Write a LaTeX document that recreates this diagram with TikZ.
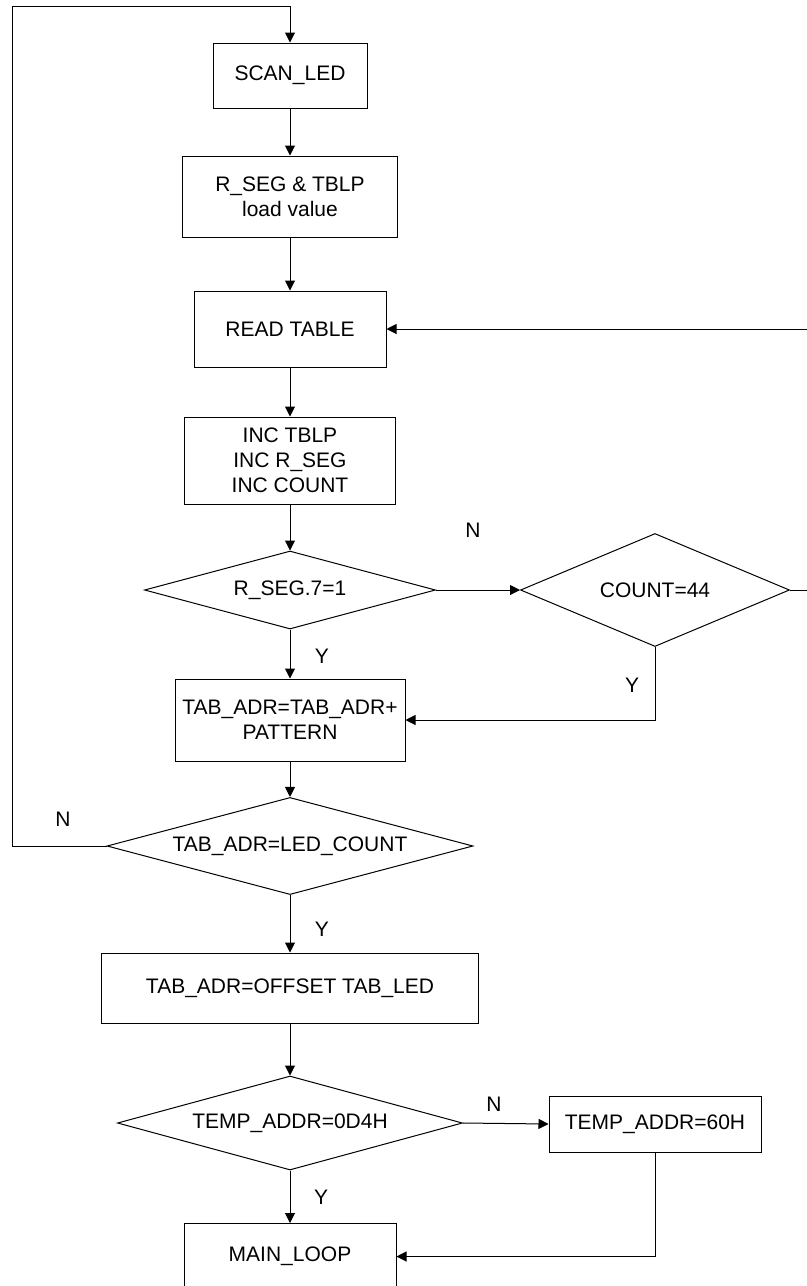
\documentclass[tikz,border=0pt]{standalone}
\usepackage{fontspec}
\setmainfont{Liberation Sans}
\usepackage{tikz}
\usetikzlibrary{shapes.geometric}
\usetikzlibrary{arrows.meta}

\begin{document}
\begin{tikzpicture}[x=0.5pt,y=-0.5pt,
    font=\fontsize{10.5}{12.5}\selectfont,
    line width=0.5pt,
    box/.style={draw,rectangle,align=center,inner sep=0pt},
    test/.style={draw,diamond,inner sep=0pt,aspect=3},
    flow/.style={-{Triangle[length=5pt,width=5pt]}}]
    \useasboundingbox (0,0) rectangle (807,1286);
    \clip (0,0) rectangle (807,1286);

    \node[box,minimum width=77pt,minimum height=32.5pt] (scan) at (290,75.5) {SCAN\_LED};
    \node[box,minimum width=107.5pt,minimum height=40.5pt] (load) at (290,196.5) {R\_SEG \& TBLP\\load value};
    \node[box,minimum width=96pt,minimum height=38pt] (read) at (290,329) {READ TABLE};
    \node[box,minimum width=105.5pt,minimum height=43.5pt] (inc) at (290,460.5) {INC TBLP\\INC R\_SEG\\INC COUNT};
    \node[test,minimum width=145.5pt,minimum height=39pt] (seg) at (290,590) {R\_SEG.7=1};
    \node[test,minimum width=134.5pt,minimum height=56.5pt] (count) at (655,590) {COUNT=44};
    \node[box,minimum width=115pt,minimum height=41pt] (add) at (290,720) {TAB\_ADR=TAB\_ADR+\\PATTERN};
    \node[test,minimum width=183pt,minimum height=48pt] (ledcnt) at (290,846) {TAB\_ADR=LED\_COUNT};
    \node[box,minimum width=188.5pt,minimum height=35pt] (offset) at (290,988) {TAB\_ADR=OFFSET TAB\_LED};
    \node[test,minimum width=172.5pt,minimum height=47pt] (temp) at (290,1123) {TEMP\_ADDR=0D4H};
    \node[box,minimum width=106pt,minimum height=28pt] (set60) at (655,1124) {TEMP\_ADDR=60H};
    \node[box,minimum width=106pt,minimum height=33pt] (main) at (290,1256.5) {MAIN\_LOOP};

    \coordinate (topleft) at (12,6);
    \coordinate (rightback) at (830,329);

    \draw[flow] (scan.south) -- (load.north);
    \draw[flow] (load.south) -- (read.north);
    \draw[flow] (read.south) -- (inc.north);
    \draw[flow] (inc.south) -- (seg.north);
    \draw[flow] (seg.south) -- (add.north);
    \draw[flow] (seg.east) -- (count.west);
    \draw[flow] (count.south) |- (add.east);
    \draw[flow] (count.east) -| (rightback) -- (read.east);
    \draw[flow] (add.south) -- (ledcnt.north);
    \draw[flow] (ledcnt.west) -| (topleft) -| (scan.north);
    \draw[flow] (ledcnt.south) -- (offset.north);
    \draw[flow] (offset.south) -- (temp.north);
    \draw[flow] (temp.south) -- (main.north);
    \draw[flow] (temp.east) -- (set60.west);
    \draw[flow] (set60.south) |- (main.east);

    \node (nSeg) at (473,530) {N};
    \node (ySeg) at (322,656) {Y};
    \node (yCount) at (632,685) {Y};
    \node (nLed) at (63,819) {N};
    \node (yLed) at (322,929) {Y};
    \node (nTemp) at (494,1104) {N};
    \node (yTemp) at (321,1197) {Y};
\end{tikzpicture}
\end{document}
